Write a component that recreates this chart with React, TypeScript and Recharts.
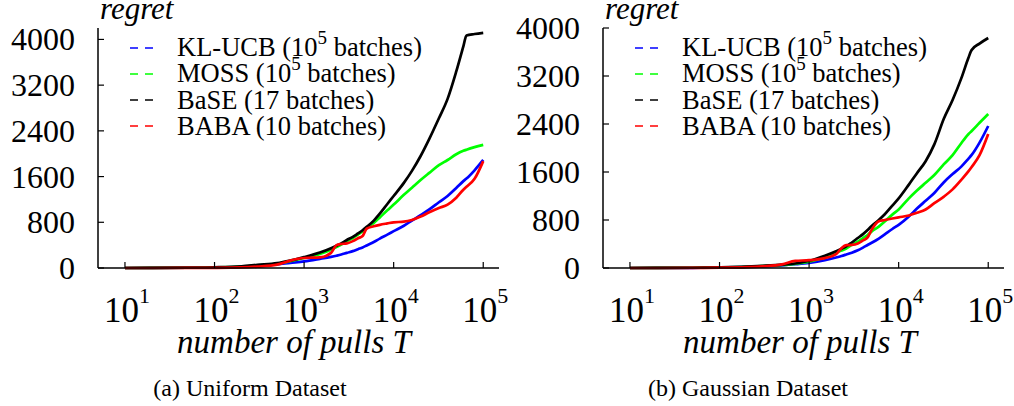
import { LineChart, Line, XAxis, YAxis, Legend } from "recharts";

// number of pulls T (x positions shared by every series)
const pulls = [
  10, 20, 50, 100, 200, 300, 500, 700, 1000, 1500, 2000, 2300, 2600, 3000,
  3500, 4000, 4500, 5000, 6000, 7000, 8500, 10000, 13000, 16000, 20000, 25000,
  32000, 40000, 50000, 60000, 65000, 80000, 100000,
];

// (a) Uniform dataset
const uniformKlucb = [
  0, 1, 4, 9, 22, 38, 65, 90, 115, 160, 195, 215, 235, 265, 295, 330, 360,
  395, 455, 515, 585, 645, 740, 830, 925, 1025, 1150, 1260, 1400, 1520, 1565,
  1710, 1891,
];
const uniformMoss = [
  0, 1, 4, 10, 25, 45, 75, 120, 175, 245, 320, 365, 410, 470, 525, 585, 640,
  695, 790, 885, 1010, 1110, 1280, 1405, 1540, 1665, 1800, 1890, 1990, 2050,
  2070, 2115, 2154,
];
const uniformBase = [
  0, 1, 5, 12, 30, 55, 85, 130, 190, 270, 345, 390, 430, 490, 545, 605, 660,
  720, 830, 950, 1120, 1260, 1490, 1700, 1960, 2260, 2620, 2960, 3440, 3880,
  4070, 4095, 4115,
];
const uniformBaba = [
  0, 0, 1, 3, 10, 25, 60, 130, 175, 185, 265, 400, 420, 430, 470, 520, 560,
  690, 730, 755, 780, 800, 810, 840, 900, 975, 1050, 1110, 1230, 1370, 1420,
  1560, 1870,
];

// (b) Gaussian dataset
const gaussianKlucb = [
  0, 1, 3, 8, 18, 28, 45, 62, 85, 130, 175, 200, 225, 255, 295, 340, 383,
  420, 490, 560, 650, 720, 860, 990, 1120, 1250, 1430, 1565, 1690, 1820, 1880,
  2090, 2367,
];
const gaussianMoss = [
  0, 1, 4, 9, 20, 32, 50, 70, 105, 180, 255, 290, 325, 385, 440, 500, 550,
  610, 690, 775, 890, 975, 1160, 1290, 1420, 1550, 1730, 1880, 2080, 2230,
  2280, 2420, 2567,
];
const gaussianBase = [
  0, 1, 4, 10, 22, 35, 55, 75, 120, 205, 280, 320, 360, 425, 500, 565, 633,
  700, 800, 895, 1040, 1160, 1390, 1580, 1780, 2060, 2490, 2800, 3160, 3500,
  3630, 3740, 3833,
];
const gaussianBaba = [
  0, 0, 2, 6, 15, 28, 60, 120, 130, 165, 230, 330, 380, 385, 410, 460, 510,
  640, 780, 800, 825, 845, 875, 920, 975, 1080, 1190, 1310, 1470, 1610, 1680,
  1880, 2233,
];

const xTicks = [10, 100, 1000, 10000, 100000];
const yTicks = [0, 800, 1600, 2400, 3200, 4000];

const series = [
  { key: "klucb", name: "KL-UCB (10", sup: "5", rest: " batches)", color: "#0000ff" },
  { key: "moss", name: "MOSS (10", sup: "5", rest: " batches)", color: "#00ff00" },
  { key: "base", name: "BaSE (17 batches)", sup: "", rest: "", color: "#000000" },
  { key: "baba", name: "BABA (10 batches)", sup: "", rest: "", color: "#ff0000" },
];

const serif = "'Liberation Serif', 'Times New Roman', serif";

const buildRows = (k: number[], m: number[], b: number[], r: number[]) =>
  pulls.map((T, i) => ({ T, klucb: k[i], moss: m[i], base: b[i], baba: r[i] }));

const XTick = (props: any) => {
  const { x, y, payload } = props;
  const exp = Math.round(Math.log10(payload.value));
  return (
    <g>
      <line x1={x} x2={x} y1={y} y2={y - 6} stroke="#000" strokeWidth={1.2} />
      <text x={x + 2} y={y + 54} textAnchor="middle" fontFamily={serif} fontSize={35} fill="#000">
        <tspan>10</tspan>
        <tspan dy={-19} fontSize={22}>{exp}</tspan>
      </text>
    </g>
  );
};

const TopTick = (props: any) => (
  <line x1={props.x} x2={props.x} y1={props.y} y2={props.y + 6} stroke="#000" strokeWidth={1.2} />
);

const YTick = (props: any) => {
  const { x, y, payload } = props;
  return (
    <g>
      <line x1={x} x2={x + 6} y1={y} y2={y} stroke="#000" strokeWidth={1.2} />
      <text x={x - 23} y={y + 11} textAnchor="end" fontFamily={serif} fontSize={32} fill="#000">
        {payload.value}
      </text>
    </g>
  );
};

const RightTick = (props: any) => (
  <line x1={props.x} x2={props.x - 6} y1={props.y} y2={props.y} stroke="#000" strokeWidth={1.2} />
);

const LegendBox = () => (
  <div style={{ fontFamily: serif, fontSize: 26.5, color: "#000" }}>
    {series.map((s) => (
      <div key={s.key} style={{ display: "flex", alignItems: "center", height: 26, lineHeight: "26px", whiteSpace: "nowrap" }}>
        <svg width={47} height={26} style={{ flex: "none" }}>
          <line x1={0} x2={23} y1={13} y2={13} stroke={s.color} strokeWidth={1.5} strokeDasharray="8 7" />
        </svg>
        <span>
          {s.name}
          {s.sup && <span style={{ fontSize: 19, position: "relative", top: -12 }}>{s.sup}</span>}
          {s.rest}
        </span>
      </div>
    ))}
  </div>
);

const axisLine = { stroke: "#000", strokeWidth: 1.5 };

const Panel = ({ rows, yMax, left }: { rows: any[]; yMax: number; left: number }) => (
  <div style={{ position: "absolute", left, top: 0 }}>
    <LineChart width={509} height={406} data={rows} margin={{ top: 28, right: 10, bottom: 78, left: 0 }}>
      <XAxis
        dataKey="T"
        type="number"
        scale="log"
        domain={[5, 150000]}
        ticks={xTicks}
        height={60}
        tickSize={0}
        tickMargin={0}
        axisLine={axisLine}
        tickLine={false}
        tick={<XTick />}
        interval={0}
      />
      <XAxis
        xAxisId="top"
        orientation="top"
        type="number"
        scale="log"
        domain={[5, 150000]}
        ticks={xTicks}
        height={0}
        tickSize={0}
        tickMargin={0}
        axisLine={axisLine}
        tickLine={false}
        tick={<TopTick />}
        interval={0}
      />
      <YAxis
        type="number"
        domain={[0, yMax]}
        ticks={yTicks}
        width={98}
        tickSize={0}
        tickMargin={0}
        axisLine={axisLine}
        tickLine={false}
        tick={<YTick />}
        interval={0}
      />
      <YAxis
        yAxisId="right"
        orientation="right"
        type="number"
        domain={[0, yMax]}
        ticks={yTicks}
        width={0}
        tickSize={0}
        tickMargin={0}
        axisLine={axisLine}
        tickLine={false}
        tick={<RightTick />}
        interval={0}
      />
      <Legend
        layout="vertical"
        align="center"
        verticalAlign="middle"
        content={<LegendBox />}
        wrapperStyle={{ left: 130, top: 35, width: 340, height: 110 }}
      />
      {series.map((s) => (
        <Line
          key={s.key}
          dataKey={s.key}
          type="monotone"
          stroke={s.color}
          strokeWidth={2.7}
          dot={false}
          isAnimationActive={false}
        />
      ))}
    </LineChart>
  </div>
);

const App = () => {
  const uniformRows = buildRows(uniformKlucb, uniformMoss, uniformBase, uniformBaba);
  const gaussianRows = buildRows(gaussianKlucb, gaussianMoss, gaussianBase, gaussianBaba);
  return (
    <div style={{ position: "absolute", left: 0, top: 0, width: 1014, height: 406, background: "#fff" }}>
      <Panel rows={uniformRows} yMax={4200} left={0} />
      <Panel rows={gaussianRows} yMax={4000} left={505} />
      <svg width={1014} height={406} style={{ position: "absolute", left: 0, top: 0, pointerEvents: "none" }}>
        <g fontFamily={serif} fill="#000">
          <text x={100} y={19} fontSize={31} fontStyle="italic">regret</text>
          <text x={605} y={19} fontSize={31} fontStyle="italic">regret</text>
          <text x={294} y={353} fontSize={33} fontStyle="italic" textAnchor="middle">number of pulls T</text>
          <text x={800} y={353} fontSize={33} fontStyle="italic" textAnchor="middle">number of pulls T</text>
          <text x={250} y={396} fontSize={24} textAnchor="middle">(a) Uniform Dataset</text>
          <text x={748} y={396} fontSize={24} textAnchor="middle">(b) Gaussian Dataset</text>
        </g>
      </svg>
    </div>
  );
};

export default App;
